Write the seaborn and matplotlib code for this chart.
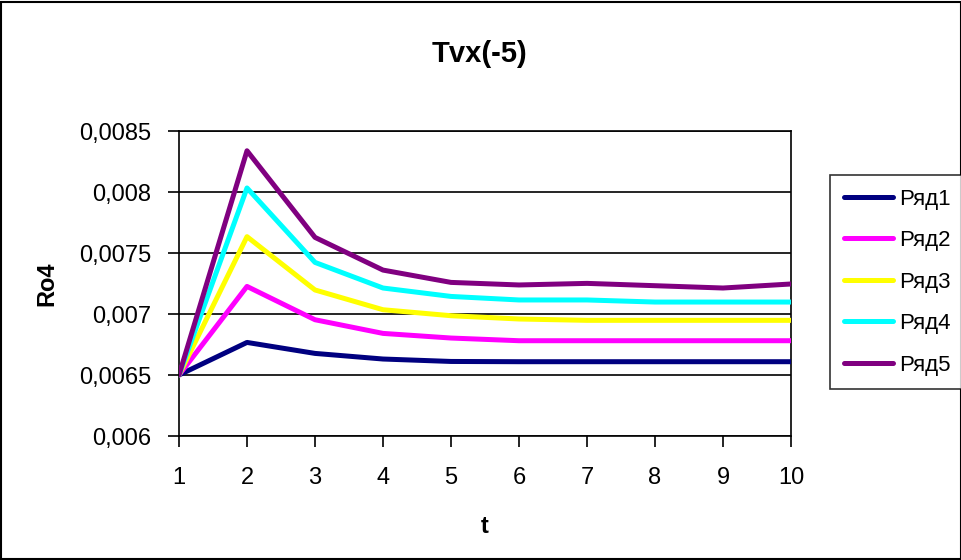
import numpy as np
import pandas as pd
import matplotlib
matplotlib.use("Agg")
import matplotlib.pyplot as plt
import seaborn as sns
from matplotlib.ticker import MultipleLocator, FuncFormatter
from matplotlib.patches import Rectangle

t_values = [1, 2, 3, 4, 5, 6, 7, 8, 9, 10]
series_names = ["Ряд1", "Ряд2", "Ряд3", "Ряд4", "Ряд5"]
ryad1 = [0.0065, 0.006767, 0.006677, 0.006631, 0.006611, 0.006609, 0.006609, 0.006609, 0.006609, 0.006609]
ryad2 = [0.0065, 0.007226, 0.006953, 0.006841, 0.006803, 0.006781, 0.006781, 0.006781, 0.006781, 0.006781]
ryad3 = [0.0065, 0.007634, 0.007197, 0.007035, 0.006986, 0.006959, 0.006948, 0.006948, 0.006948, 0.006948]
ryad4 = [0.0065, 0.008033, 0.007423, 0.007213, 0.007144, 0.007115, 0.007115, 0.007098, 0.007098, 0.007098]
ryad5 = [0.0065, 0.008338, 0.007628, 0.007360, 0.007259, 0.007238, 0.007251, 0.007232, 0.007213, 0.007246]
colors = ["#000080", "#FF00FF", "#FFFF00", "#00FFFF", "#800080"]

sns.set_style("white")
plt.rcParams['font.family'] = ['Liberation Sans', 'DejaVu Sans']
plt.rcParams['text.color'] = 'black'
plt.rcParams['axes.labelcolor'] = 'black'
plt.rcParams['xtick.color'] = 'black'
plt.rcParams['ytick.color'] = 'black'

rows = []
for name, vals in zip(series_names, [ryad1, ryad2, ryad3, ryad4, ryad5]):
    for t, v in zip(t_values, vals):
        rows.append({"t": t, "Ro4": v, "series": name})
df = pd.DataFrame(rows)

fig = plt.figure(figsize=(9.62, 5.6), dpi=100)
ax = fig.add_axes([179/962, 124/560, (791-179)/962, (436-131)/560])

sns.lineplot(data=df, x="t", y="Ro4", hue="series", palette=colors,
             linewidth=3.6, ax=ax, legend=False, zorder=3)

ax.set_xlim(1, 10)
ax.set_ylim(0.006, 0.0085)
ax.xaxis.set_major_locator(MultipleLocator(1))
ax.yaxis.set_major_locator(MultipleLocator(0.0005))
ax.yaxis.set_major_formatter(FuncFormatter(lambda v, p: ('%g' % round(v, 5)).replace('.', ',')))
ax.grid(axis='y', color='black', linewidth=1.2)
ax.set_axisbelow(True)
for s in ax.spines.values():
    s.set_color('black')
    s.set_linewidth(1.2)
    s.set_visible(True)
ax.tick_params(axis='both', direction='out', length=8, width=1.2, color='black',
               labelsize=17, labelcolor='black', left=True, bottom=True)
ax.tick_params(axis='x', pad=14)
ax.tick_params(axis='y', pad=12)
ax.set_xlabel("t", fontsize=17, fontweight='bold', labelpad=19, color='black')
ax.set_ylabel("Ro4", fontsize=17, fontweight='bold', labelpad=15, color='black')
fig.text(480/962, 1 - 54/560, "Tvx(-5)", fontsize=21, fontweight='bold',
         ha='center', va='center', color='black')

handles = [plt.Line2D([], [], color=c, linewidth=3.6) for c in colors]
leg = fig.legend(handles, series_names, loc='upper left',
                 bbox_to_anchor=(830/962, 1 - 175/560), frameon=True,
                 fontsize=16, handlelength=2.2, handletextpad=0.3,
                 labelspacing=0.92, borderpad=0.62, borderaxespad=0, fancybox=False,
                 labelcolor='black')
leg.get_frame().set_edgecolor('black')
leg.get_frame().set_linewidth(1.2)

fig.patches.append(Rectangle((1/962, 1/560), 960/962, 557/560, transform=fig.transFigure,
                             fill=False, edgecolor='black', linewidth=1.5))

fig.savefig("out.png", dpi=100)
